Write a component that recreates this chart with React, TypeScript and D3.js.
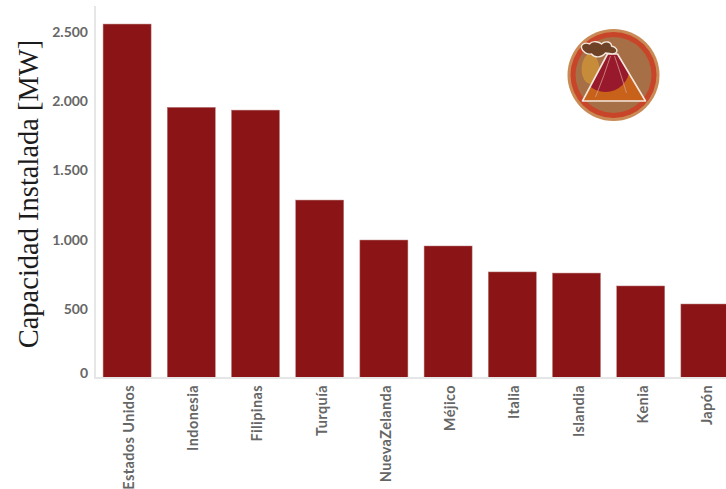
import React from "react";
import * as d3 from "d3";

const countries = ["Estados Unidos", "Indonesia", "Filipinas", "Turquía", "NuevaZelanda", "Méjico", "Italia", "Islandia", "Kenia", "Japón"];
const capacityMW = [2550, 1950, 1930, 1282, 994, 951, 764, 756, 663, 533];
const yTicks = [0, 500, 1000, 1500, 2000, 2500];
const axisTitle = "Capacidad Instalada [MW]";

const WIDTH = 726;
const HEIGHT = 489;
const BASELINE = 378;
const AXIS_X = 95;
const BAR = "#8b1516";
const TICK_COLOR = "#666666";
const TICK_FONT = "Lato, sans-serif";

const y = d3.scaleLinear().domain([0, 2500]).range([BASELINE, 31]);
const x = d3.scaleBand<string>().domain(countries).range([AXIS_X, AXIS_X + 642]).paddingInner(0.2523).paddingOuter(0.126);

const thousands = (v: number) => d3.format(",")(v).replace(/,/g, ".");

const CONE = "M-31 26 L-6 -21 L4 -21 L32 26 Z";

// Round volcano emblem in the upper right corner
function VolcanoBadge() {
  return (
    <g transform="translate(613.5 75)">
      <clipPath id="cone-clip">
        <path d={CONE} />
      </clipPath>
      <circle r={46} fill="#c98a55" />
      <circle r={43} fill="#c8452a" />
      <circle r={38} fill="#a66f45" />
      <ellipse cx={-23} cy={-6} rx={9} ry={15} fill="#c68c3a" />
      <path d={CONE} fill="#c8621a" />
      <circle cx={-8} cy={-7} r={24} fill="#97192b" clipPath="url(#cone-clip)" />
      <path d={CONE} fill="none" stroke="#f3e7df" strokeWidth={1.6} strokeLinejoin="round" />
      <path d="M-3 -19 Q-9 0 -18 22 M1 -19 Q6 -5 13 18" fill="none" stroke="#d9a79a" strokeWidth={0.7} />
      <path
        d="M-32 -27 C-33 -31 -28 -33 -24 -31 C-21 -35 -14 -33 -12 -31 C-8 -35 -2 -33 -2 -29 C3 -28 5 -24 2 -22 C-1 -20 -4 -22 -8 -22 C-12 -17 -19 -17 -22 -21 C-26 -20 -31 -23 -32 -27 Z"
        fill="#6e4226"
        stroke="#f3e7df"
        strokeWidth={1.3}
      />
    </g>
  );
}

export default function App() {
  return (
    <svg width={WIDTH} height={HEIGHT} style={{ position: "absolute", left: 0, top: 0, background: "#fff" }}>
      {countries.map((name, i) => (
        <rect key={name} x={x(name)} y={y(capacityMW[i])} width={x.bandwidth()} height={BASELINE - y(capacityMW[i])} fill={BAR} stroke="#b87a7a" strokeWidth={0.5} />
      ))}
      <line x1={AXIS_X} x2={AXIS_X} y1={6} y2={BASELINE + 1} stroke="#e6e6e6" strokeWidth={2} />
      <line x1={AXIS_X} x2={WIDTH} y1={BASELINE} y2={BASELINE} stroke="#e6e6e6" strokeWidth={2} />
      {yTicks.map((t) => (
        <text
          key={t}
          x={88}
          y={t === 0 ? y(t) - 6 : y(t)}
          textAnchor="end"
          dominantBaseline="central"
          fontFamily={TICK_FONT}
          fontWeight={700}
          fontSize={14}
          fill={TICK_COLOR}
        >
          {thousands(t)}
        </text>
      ))}
      {countries.map((name) => {
        const cx = (x(name) as number) + x.bandwidth() / 2;
        return (
          <text
            key={name}
            transform={`translate(${cx + 1.5} 385) rotate(-90)`}
            textAnchor="end"
            dominantBaseline="central"
            fontFamily={TICK_FONT}
            fontWeight={700}
            fontSize={14.5}
            letterSpacing={0.4}
            fill={TICK_COLOR}
          >
            {name}
          </text>
        );
      })}
      <text
        transform="translate(28 194) rotate(-90)"
        textAnchor="middle"
        dominantBaseline="central"
        fontFamily="'Liberation Serif', serif"
        fontSize={28.5}
        fill="#1c1c1c"
      >
        {axisTitle}
      </text>
      <VolcanoBadge />
    </svg>
  );
}
